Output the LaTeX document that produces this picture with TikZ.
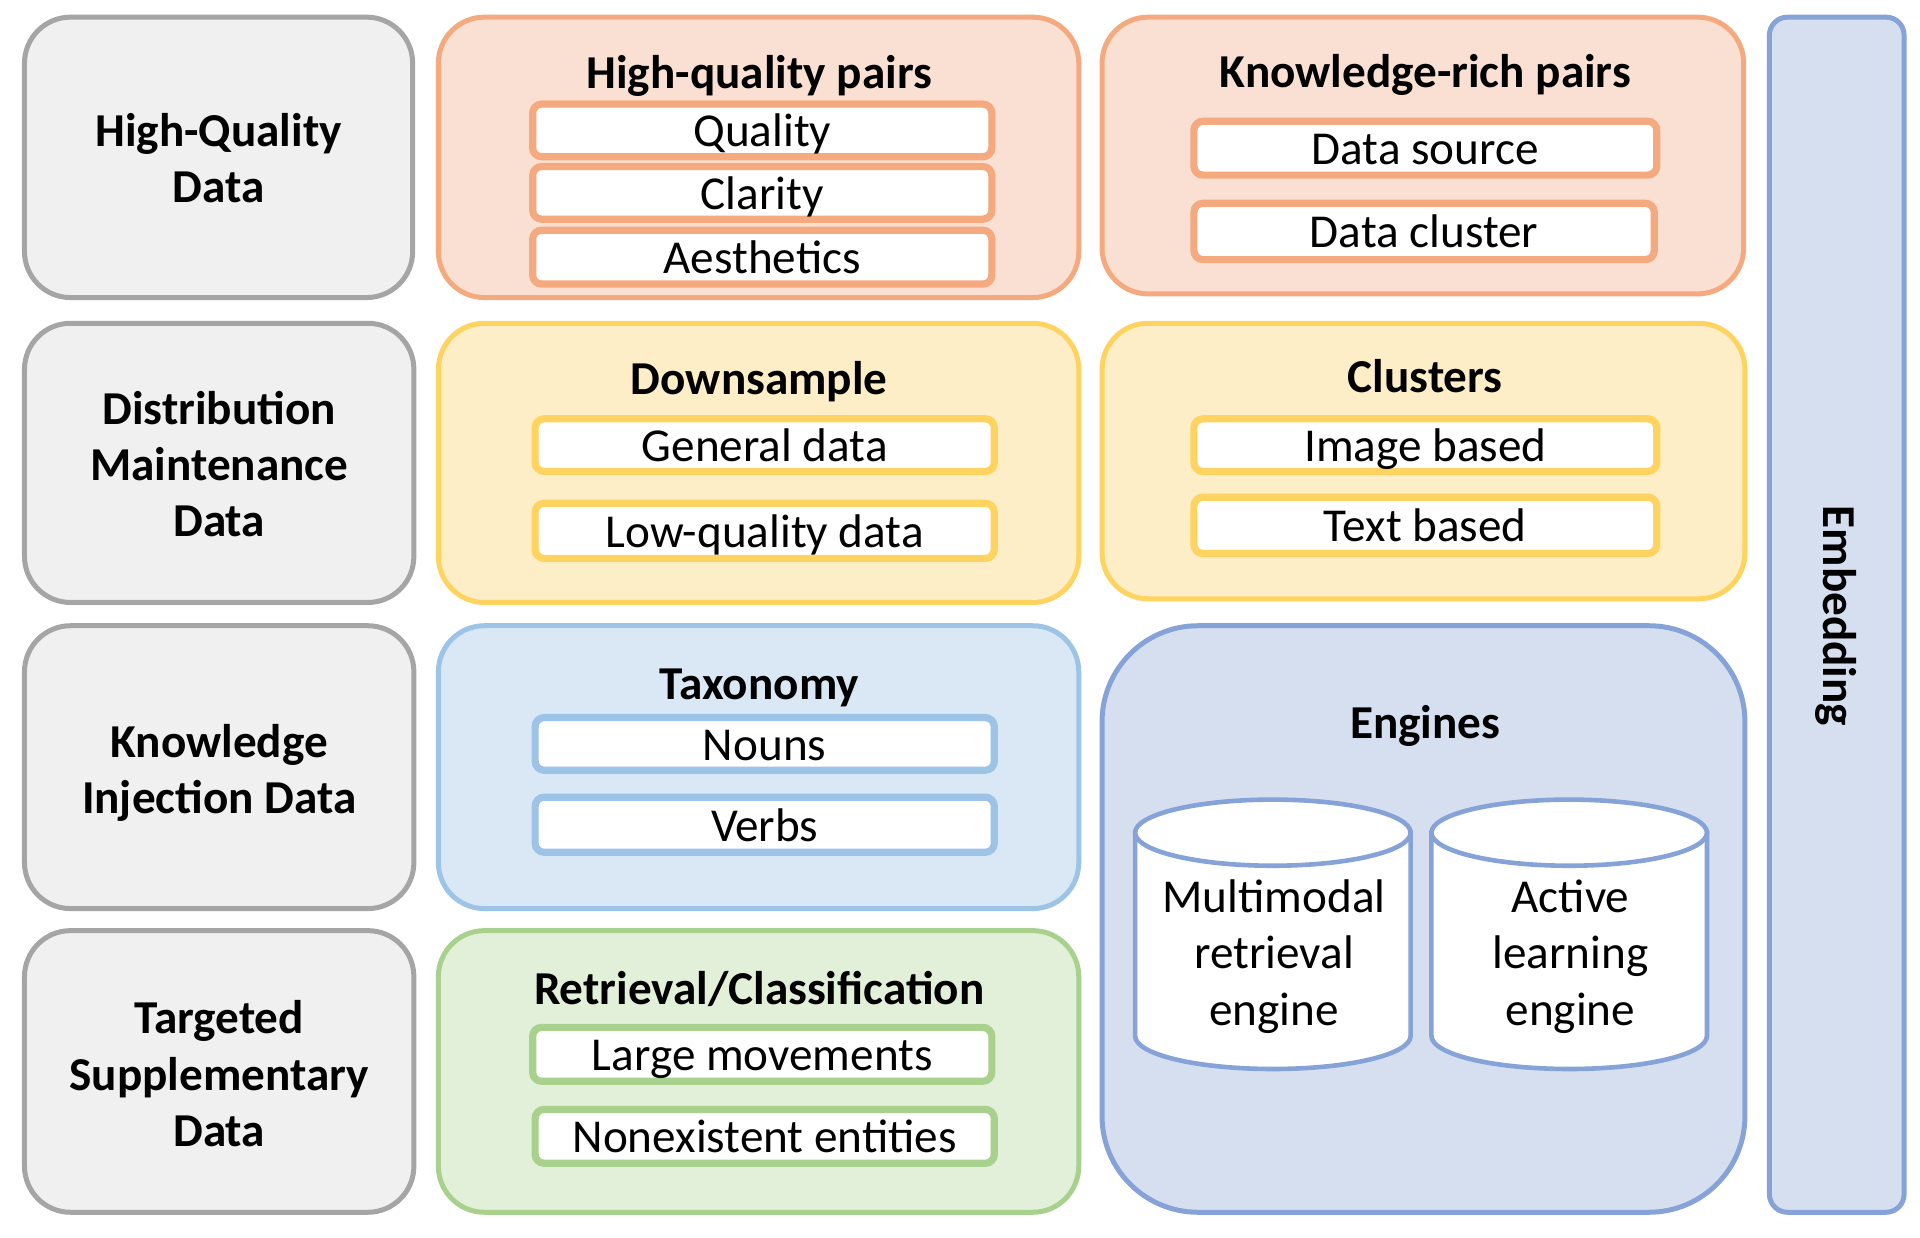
\documentclass[tikz,border=0pt]{standalone}
\usepackage{fontspec}
\setmainfont{Carlito}
\newcommand{\ux}{0.61225pt}
\tikzset{
  base/.style={rectangle,inner sep=0pt,align=center,font=\fontsize{23.6}{28.2}\selectfont},
  outer/.style={base,line width=2.5pt,rounded corners=23pt},
  sub/.style={base,line width=3.6pt,rounded corners=4.5pt,fill=white,text height=16.4pt,text depth=0pt},
  ttl/.style={base,font=\fontsize{23.6}{28.2}\selectfont\bfseries,text height=14.8pt,text depth=0pt},
  lbl/.style={base,font=\fontsize{23.6}{28.2}\selectfont\bfseries},
  gray/.style={outer,draw=cGrayL,fill=cGrayF},
  org/.style={outer,draw=cOrgL,fill=cOrgF},
  yel/.style={outer,draw=cYelL,fill=cYelF},
  blu/.style={outer,draw=cBluL,fill=cBluF},
  grn/.style={outer,draw=cGrnL,fill=cGrnF},
  ind/.style={outer,draw=cIndL,fill=cIndF},
  cyl/.style={draw=cIndL,fill=white,line width=2.3pt},
}
\definecolor{cGrayL}{HTML}{A5A5A5}\definecolor{cGrayF}{HTML}{F0F0F0}
\definecolor{cOrgL}{HTML}{F4A97F}\definecolor{cOrgF}{HTML}{FAE0D2}
\definecolor{cYelL}{HTML}{FFD35F}\definecolor{cYelF}{HTML}{FEEEC8}
\definecolor{cBluL}{HTML}{9DC3E6}\definecolor{cBluF}{HTML}{DAE8F5}
\definecolor{cGrnL}{HTML}{A9D18E}\definecolor{cGrnF}{HTML}{E2EFD9}
\definecolor{cIndL}{HTML}{86A3D8}\definecolor{cIndF}{HTML}{D6DFF0}
% \bx{name}{style}{x1}{y1}{x2}{y2}{text}
\newcommand{\bx}[7]{%
  \node[#2,minimum width={(#5-#3)*\ux},minimum height={(#6-#4)*\ux}] (#1) at ({(#3+#5)/2},{(#4+#6)/2}) {#7};}
% \cyln{name}{x1}{x2}{text}
\newcommand{\cyln}[4]{%
  \path[cyl] (#2,680) -- (#2,846) .. controls (#2,861) and ({#2+50},873) .. ({(#2+#3)/2},873)
     .. controls ({#3-50},873) and (#3,861) .. (#3,846) -- (#3,680) -- cycle;
  \path[cyl] ({(#2+#3)/2},680) ellipse [x radius={(#3-#2)/2},y radius=27];
  \node[base] (#1) at ({(#2+#3)/2+1},781) {#4};}
\begin{document}
\begin{tikzpicture}[x=\ux,y=-\ux]
\useasboundingbox (0,0) rectangle (1568,1011);
\bx{a1}{gray}{20}{14}{337}{243}{}
\bx{a2}{gray}{20}{264}{338}{492}{}
\bx{a3}{gray}{20}{511}{338}{742}{}
\bx{a4}{gray}{20}{760}{338}{990}{}
\node[lbl] (l1) at (178.5,129) {High-Quality\\Data};
\node[lbl] (l2) at (179,379) {Distribution\\Maintenance\\Data};
\node[lbl] (l3) at (179,631) {Knowledge\\Injection Data};
\node[lbl] (l4) at (179,877) {Targeted\\Supplementary\\Data};
\bx{b1}{org}{358}{14}{881}{243}{}
\bx{b2}{yel}{358}{264}{881}{492}{}
\bx{b3}{blu}{358}{511}{881}{742}{}
\bx{b4}{grn}{358}{760}{881}{990}{}
\bx{c1}{org}{900}{14}{1424}{240}{}
\bx{c2}{yel}{900}{264}{1425}{489}{}
\bx{c3}{ind,rounded corners=48pt}{900}{511}{1425}{990}{}
\bx{d}{ind,rounded corners=9pt}{1445}{14}{1555}{990}{}
\node[ttl] (t1) at (620,60) {High-quality pairs};
\node[ttl] (t2) at (620,310) {Downsample};
\node[ttl] (t3) at (620,559) {Taxonomy};
\node[ttl] (t4) at (620,808) {Retrieval/Classification};
\node[ttl] (t5) at (1164,59) {Knowledge-rich pairs};
\node[ttl] (t6) at (1164,308.5) {Clusters};
\node[ttl] (t7) at (1164,591) {Engines};
\node[ttl,rotate=-90] (t8) at (1501,503) {Embedding};
\bx{s1}{sub,draw=cOrgL}{435}{85}{810}{128}{Quality}
\bx{s2}{sub,draw=cOrgL}{435}{136}{810}{179}{Clarity}
\bx{s3}{sub,draw=cOrgL}{435}{188}{810}{232}{Aesthetics}
\bx{s4}{sub,draw=cYelL}{437}{342}{812}{385}{General data}
\bx{s5}{sub,draw=cYelL}{437}{411}{812}{456}{Low-quality data}
\bx{s6}{sub,draw=cBluL}{437}{586}{812}{629}{Nouns}
\bx{s7}{sub,draw=cBluL}{437}{651}{812}{696}{Verbs}
\bx{s8}{sub,draw=cGrnL}{435}{839}{810}{883}{Large movements}
\bx{s9}{sub,draw=cGrnL}{437}{906}{812}{950}{Nonexistent entities}
\bx{s10}{sub,draw=cOrgL}{975}{99}{1353}{143}{Data source}
\bx{s11}{sub,draw=cOrgL}{975}{166}{1351}{212}{Data cluster}
\bx{s12}{sub,draw=cYelL}{975}{342}{1353}{385}{Image based}
\bx{s13}{sub,draw=cYelL}{975}{406}{1353}{452}{Text based}
\cyln{e1}{927}{1152}{Multimodal\\retrieval\\engine}
\cyln{e2}{1169}{1394}{Active\\learning\\engine}
\end{tikzpicture}
\end{document}
